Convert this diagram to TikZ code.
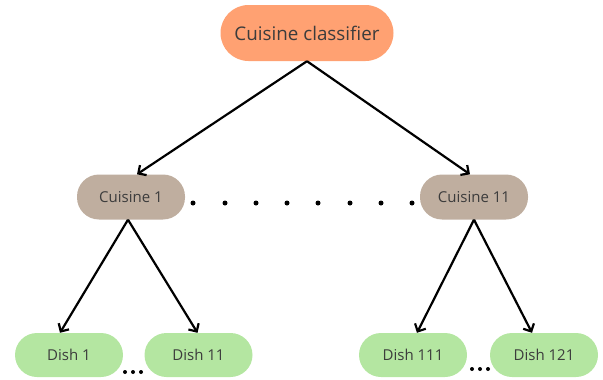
\documentclass[tikz,border=0pt]{standalone}
\usepackage{fontspec}
\setmainfont{Open Sans}
\usetikzlibrary{arrows.meta}
\definecolor{topc}{HTML}{FFA172}
\definecolor{cuic}{HTML}{BFAE9F}
\definecolor{dishc}{HTML}{B4E6A1}
\definecolor{txtc}{HTML}{3C3C3C}
\begin{document}
\begin{tikzpicture}[x=1pt,y=-1pt,
  pill/.style={rectangle, rounded corners=#1, draw=none, text=txtc, inner sep=0pt},
  topbox/.style={pill=28pt, fill=topc, minimum width=173pt, minimum height=56pt, font=\fontsize{18.8}{20}\selectfont},
  cuibox/.style={pill=22pt, fill=cuic, minimum width=108pt, minimum height=45pt, font=\fontsize{15}{17}\selectfont},
  dishbox/.style={pill=22pt, fill=dishc, minimum width=108pt, minimum height=44pt, font=\fontsize{15}{17}\selectfont},
  arr/.style={line width=2.2pt, -{Straight Barb[length=6pt,width=12pt]}},
  bigdot/.style={circle, fill=black, inner sep=0pt, minimum size=5pt},
  smalldot/.style={circle, fill=black, inner sep=0pt, minimum size=4pt}]
\useasboundingbox (0,0) rectangle (603,380);
\node[topbox] (top) at (307,33) {Cuisine classifier};
\node[cuibox] (c1) at (131,197) {Cuisine 1};
\node[cuibox] (c2) at (474,197) {Cuisine 11};
\node[dishbox] (d1) at (69,355) {Dish 1};
\node[dishbox] (d2) at (198.5,355) {Dish 11};
\node[dishbox] (d3) at (413,355) {Dish 111};
\node[dishbox] (d4) at (544,355) {Dish 121};
\draw[arr] (top.south) -- ([xshift=6pt]c1.north);
\draw[arr] (top.south) -- ([xshift=-4pt]c2.north);
\draw[arr] ([xshift=-3pt]c1.south) -- ([xshift=-9pt]d1.north);
\draw[arr] ([xshift=-3pt]c1.south) -- ([xshift=-1pt]d2.north);
\draw[arr] (c2.south) -- ([xshift=4pt]d3.north);
\draw[arr] (c2.south) -- ([xshift=-12pt]d4.north);
\foreach \i/\x in {1/193,2/225,3/256,4/287,5/318,6/350,7/381,8/412}
  \node[bigdot] (bd\i) at (\x,203) {};
\foreach \i/\x in {1/125,2/133,3/141}
  \node[smalldot] (sa\i) at (\x,372) {};
\foreach \i/\x in {1/472,2/480,3/488}
  \node[smalldot] (sb\i) at (\x,369) {};
\end{tikzpicture}
\end{document}
